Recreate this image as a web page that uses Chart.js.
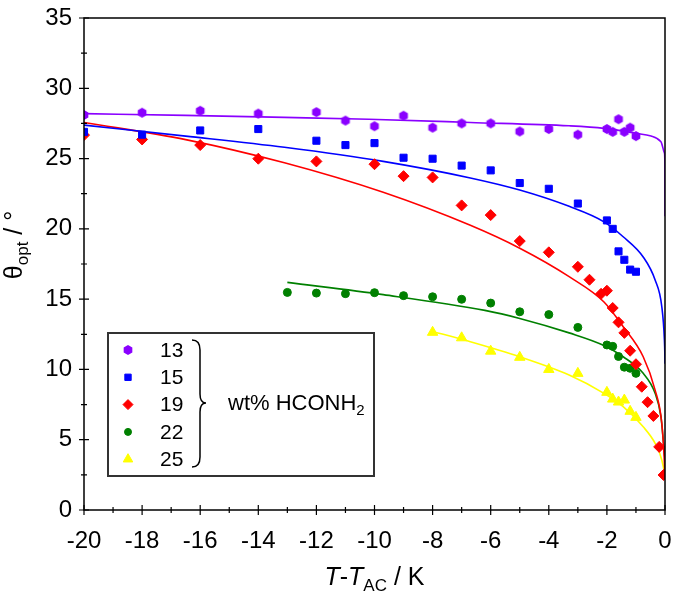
<!DOCTYPE html>
<html>
<head>
<meta charset="utf-8">
<script src="https://cdn.jsdelivr.net/npm/chart.js@4.4.0/dist/chart.umd.min.js"></script>
<style>
  body { margin: 0; background: #fff; }
  #wrap { width: 673px; height: 595px; }
</style>
</head>
<body>
<div id="wrap"><canvas id="grafico" width="673" height="595"></canvas></div>
<script>
// Series: wt% HCONH2
const series = ['13', '15', '19', '22', '25'];

// Puntos medidos (T - T_AC en K, theta_opt en grados)
const x13 = [-20, -18, -16, -14, -12, -11, -10, -9, -8, -7, -6, -5, -4, -3, -2, -1.8, -1.6, -1.4, -1.2, -1.0];
const y13 = [28.1, 28.26, 28.4, 28.2, 28.3, 27.7, 27.3, 28.05, 27.2, 27.5, 27.5, 26.93, 27.1, 26.7, 27.1, 26.9, 27.8, 26.9, 27.2, 26.6];

const x15 = [-20, -18, -16, -14, -12, -11, -10, -9, -8, -7, -6, -5, -4, -3, -2, -1.8, -1.6, -1.4, -1.2, -1.0];
const y15 = [26.9, 26.7, 27.0, 27.1, 26.27, 25.96, 26.1, 25.06, 24.99, 24.5, 24.16, 23.26, 22.85, 21.8, 20.6, 20.0, 18.4, 17.8, 17.1, 16.95];

const x19 = [-20, -18, -16, -14, -12, -10, -9, -8, -7, -6, -5, -4, -3, -2.6, -2.2, -2.0, -1.8, -1.6, -1.4, -1.2, -1.0, -0.8, -0.6, -0.4, -0.2, -0.05];
const y19 = [26.67, 26.36, 25.96, 24.99, 24.8, 24.6, 23.75, 23.66, 21.67, 20.98, 19.13, 18.33, 17.3, 16.38, 15.38, 15.6, 14.37, 13.35, 12.6, 11.33, 10.37, 8.77, 7.67, 6.69, 4.49, 2.49];

const x22 = [-13, -12, -11, -10, -9, -8, -7, -6, -5, -4, -3, -2, -1.8, -1.6, -1.4, -1.2, -1.0];
const y22 = [15.48, 15.43, 15.39, 15.46, 15.25, 15.17, 14.99, 14.72, 14.1, 13.9, 12.99, 11.74, 11.64, 10.92, 10.16, 10.08, 9.72];

const x25 = [-8, -7, -6, -5, -4, -3, -2, -1.8, -1.6, -1.4, -1.2, -1.0];
const y25 = [12.64, 12.25, 11.3, 10.86, 10.0, 9.72, 8.37, 7.89, 7.68, 7.82, 7.02, 6.59];

// Curvas de ajuste
const fx13 = [-20, -16.5, -13.1, -10.2, -6.7, -3.3, -2.1, -1.0, -0.48, -0.14, -0.02, -0.003, 0];
const fy13 = [28.2, 28.07, 27.93, 27.8, 27.57, 27.33, 27.15, 26.8, 26.6, 26.2, 25.4, 24.6, 20.9];

const fx15 = [-20, -16.5, -13.1, -9.7, -6.7, -5.0, -3.3, -2.1, -1.44, -0.75, -0.34, -0.11, -0.02, -0.004, 0];
const fy15 = [27.38, 26.6, 25.8, 24.8, 23.62, 22.76, 21.6, 20.5, 19.44, 18.0, 16.36, 14.46, 12.1, 11.0, 10.4];

const fx19 = [-20, -16.5, -13.1, -9.7, -6.7, -5.0, -3.3, -2.1, -1.44, -0.75, -0.34, -0.11, -0.03, 0];
const fy19 = [27.57, 26.35, 24.7, 22.6, 20.25, 18.62, 16.6, 14.8, 13.04, 10.9, 8.53, 6.17, 3.79, 2.37];

const fx22 = [-13, -9.7, -6.2, -5.0, -3.3, -2.1, -1.44, -0.75, -0.34, -0.14, -0.06, 0];
const fy22 = [16.19, 15.32, 14.2, 13.63, 12.6, 11.7, 10.9, 9.72, 8.3, 6.64, 4.98, 3.56];

const fx25 = [-8, -6.7, -5.0, -3.3, -2.1, -1.44, -0.75, -0.34, -0.11, -0.02, 0];
const fy25 = [12.7, 11.97, 10.9, 9.6, 8.3, 7.35, 5.92, 4.74, 3.56, 2.6, 2.2];

const colores = ['#8a00ff', '#0000ff', '#ff0000', '#008000', '#ffff00'];

// Marcador hexagonal para la serie 13
function hexagono(r, color) {
  const c = document.createElement('canvas');
  c.width = 2 * r + 2; c.height = 2 * r + 2;
  const g = c.getContext('2d');
  g.fillStyle = color;
  g.beginPath();
  for (let i = 0; i < 6; i++) {
    const a = Math.PI / 6 + i * Math.PI / 3;
    const px = r + 1 + r * Math.cos(a), py = r + 1 + r * Math.sin(a);
    if (i === 0) g.moveTo(px, py); else g.lineTo(px, py);
  }
  g.closePath();
  g.fill();
  return c;
}

const estilos = [hexagono(5, colores[0]), 'rect', 'rectRot', 'circle', 'triangle'];
const radios = [5, 5, 5.5, 4, 6];

const zip = (xs, ys) => xs.map((x, i) => ({ x, y: ys[i] }));
const puntos = [zip(x13, y13), zip(x15, y15), zip(x19, y19), zip(x22, y22), zip(x25, y25)];
const ajustes = [zip(fx13, fy13), zip(fx15, fy15), zip(fx19, fy19), zip(fx22, fy22), zip(fx25, fy25)];

const datasets = [];
puntos.forEach((d, i) => {
  datasets.push({
    type: 'scatter',
    label: series[i],
    data: d,
    pointStyle: estilos[i],
    pointRadius: radios[i],
    pointBackgroundColor: colores[i],
    pointBorderColor: colores[i],
    pointBorderWidth: 1,
  });
});
ajustes.forEach((d, i) => {
  datasets.push({
    type: 'line',
    label: 'ajuste ' + series[i],
    data: d,
    borderColor: colores[i],
    borderWidth: 1.6,
    pointRadius: 0,
    fill: false,
    cubicInterpolationMode: 'monotone',
  });
});

const FUENTE = '"Liberation Sans", Arial, sans-serif';

// Dibuja texto con sub-índices
function textoCompuesto(ctx, partes, x, y, centrado) {
  let total = 0;
  partes.forEach((p) => { ctx.font = p.font; total += ctx.measureText(p.t).width; });
  let cx = centrado ? x - total / 2 : x;
  partes.forEach((p) => {
    ctx.font = p.font;
    ctx.fillText(p.t, cx, y + (p.dy || 0));
    cx += ctx.measureText(p.t).width;
  });
}

const marco = {
  id: 'marco',
  afterDraw(chart) {
    const ctx = chart.ctx;
    const a = chart.chartArea;
    const sx = chart.scales.x, sy = chart.scales.y;
    ctx.save();
    ctx.strokeStyle = '#000';
    ctx.lineWidth = 1.5;
    ctx.strokeRect(a.left, a.top, a.right - a.left, a.bottom - a.top);

    // marcas de los ejes
    ctx.lineWidth = 1.2;
    ctx.beginPath();
    for (let v = -20; v <= 0; v += 1) {
      const px = sx.getPixelForValue(v);
      const L = v % 2 === 0 ? 5 : 3;
      ctx.moveTo(px, a.bottom - L);
      ctx.lineTo(px, a.bottom + L);
    }
    for (let v = 0; v <= 35; v += 2.5) {
      const py = sy.getPixelForValue(v);
      const L = v % 5 === 0 ? 5 : 3;
      ctx.moveTo(a.left - L, py);
      ctx.lineTo(a.left + L, py);
    }
    ctx.stroke();

    // títulos de los ejes
    ctx.fillStyle = '#000';
    ctx.textBaseline = 'alphabetic';
    ctx.textAlign = 'left';
    const n = '25px ' + FUENTE, it = 'italic 25px ' + FUENTE, sub = '17px ' + FUENTE;
    textoCompuesto(ctx, [
      { t: 'T', font: it }, { t: '-', font: n }, { t: 'T', font: it },
      { t: 'AC', font: sub, dy: 6 }, { t: ' / K', font: n },
    ], (a.left + a.right) / 2, 585, true);

    ctx.save();
    ctx.translate(22, 245);
    ctx.rotate(-Math.PI / 2);
    textoCompuesto(ctx, [
      { t: '\u03b8', font: n }, { t: 'opt', font: sub, dy: 6 }, { t: ' / \u00b0', font: n },
    ], 0, 0, true);
    ctx.restore();

    // leyenda
    ctx.strokeStyle = '#333';
    ctx.lineWidth = 2;
    ctx.strokeRect(108, 333, 266, 143);
    const dp = Chart.helpers && Chart.helpers.drawPoint;
    series.forEach((s, i) => {
      const yy = 350 + i * 27.3;
      ctx.fillStyle = colores[i];
      ctx.strokeStyle = colores[i];
      ctx.lineWidth = 1;
      if (dp) dp(ctx, { pointStyle: estilos[i], radius: radios[i] - 0.5, rotation: 0, borderWidth: 1 }, 128, yy);
      ctx.fillStyle = '#000';
      ctx.font = '21px ' + FUENTE;
      ctx.textBaseline = 'middle';
      ctx.textAlign = 'left';
      ctx.fillText(s, 160, yy + 1);
    });

    // llave
    ctx.strokeStyle = '#000';
    ctx.lineWidth = 1.5;
    ctx.beginPath();
    ctx.moveTo(192, 340);
    ctx.quadraticCurveTo(200, 340, 200, 350);
    ctx.lineTo(200, 394);
    ctx.quadraticCurveTo(200, 403, 206, 403);
    ctx.quadraticCurveTo(200, 403, 200, 412);
    ctx.lineTo(200, 457);
    ctx.quadraticCurveTo(200, 467, 192, 467);
    ctx.stroke();

    ctx.textBaseline = 'middle';
    ctx.textAlign = 'left';
    ctx.fillStyle = '#000';
    textoCompuesto(ctx, [
      { t: 'wt% HCONH', font: '22px ' + FUENTE }, { t: '2', font: '15px ' + FUENTE, dy: 7 },
    ], 228, 404, false);
    ctx.restore();
  },
};

new Chart(document.getElementById('grafico'), {
  type: 'scatter',
  data: { datasets },
  options: {
    responsive: false,
    animation: false,
    layout: { padding: { top: 18, right: 8, left: 0, bottom: 0 } },
    plugins: { legend: { display: false }, tooltip: { enabled: false } },
    scales: {
      x: {
        type: 'linear', min: -20, max: 0,
        grid: { display: false, drawTicks: false },
        border: { display: false },
        ticks: { stepSize: 2, padding: 17, color: '#000', font: { family: FUENTE, size: 24 } },
        afterFit(s) { s.height = 85; s.paddingLeft = 0; s.paddingRight = 0; },
      },
      y: {
        type: 'linear', min: 0, max: 35,
        grid: { display: false, drawTicks: false },
        border: { display: false },
        ticks: { stepSize: 5, padding: 12, color: '#000', font: { family: FUENTE, size: 24 } },
        afterFit(s) { s.width = 84; s.paddingTop = 0; s.paddingBottom = 0; },
      },
    },
  },
  plugins: [marco],
});
</script>
</body>
</html>
